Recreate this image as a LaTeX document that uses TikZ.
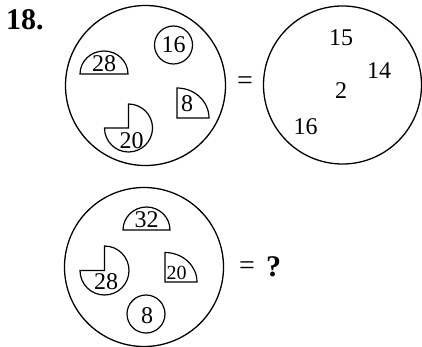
\documentclass[tikz,border=0pt]{standalone}
\usepackage{fontspec}
\setmainfont{Liberation Serif}
\begin{document}
\begin{tikzpicture}[x=1pt,y=-1pt,
  bigc/.style={draw=black,line width=1.3pt},
  piece/.style={draw=black,line width=1.2pt},
  num/.style={inner sep=0pt,font=\fontsize{24}{24}\selectfont},
  smallnum/.style={inner sep=0pt,font=\fontsize{20}{20}\selectfont},
  eqsign/.style={inner sep=0pt,font=\fontsize{28}{28}\selectfont}]
\useasboundingbox (0,0) rectangle (422,347);
% title
\node[inner sep=0pt,anchor=west,font=\fontsize{30}{30}\bfseries\selectfont] (title) at (6,20) {18.};
% ---- first big circle ----
\draw[bigc] (145.5,85.5) circle[radius=80];
\draw[piece] (173.5,45) circle[radius=19];
\node[num] (a16) at (173.5,44.5) {16};
\draw[piece] (80,74) arc[start angle=180,end angle=360,x radius=24,y radius=23] -- cycle;
\node[num] (a28) at (104,64) {28};
\draw[piece] (177,118) -- ++(0,-30) arc[start angle=-90,end angle=0,x radius=32,y radius=30] -- cycle;
\node[num] (a8) at (187,103.5) {8};
\draw[piece] (128.5,128) -- ++(0,-24) arc[start angle=-90,end angle=180,radius=24] -- cycle;
\node[num] (a20) at (131.5,140.5) {20};
\node[eqsign] (eq1) at (245,83) {=};
% ---- second big circle ----
\draw[bigc] (342.5,85) circle[radius=79];
\node[num] (b15) at (341,37.5) {15};
\node[num] (b14) at (379,71) {14};
\node[num] (b2) at (341,91) {2};
\node[num] (b16) at (305.5,126.5) {16};
% ---- third big circle ----
\draw[bigc] (144,267) circle[radius=79.5];
\draw[piece] (123,230) arc[start angle=180,end angle=360,x radius=23.5,y radius=23] -- cycle;
\node[num] (c32) at (146.5,220) {32};
\draw[piece] (104.5,270.5) -- ++(0,-24.5) arc[start angle=-90,end angle=180,radius=24.5] -- cycle;
\node[num] (c28) at (106,282) {28};
\draw[piece] (165,282) -- ++(0,-29.5) arc[start angle=-90,end angle=0,x radius=32,y radius=29.5] -- cycle;
\node[smallnum] (c20) at (176.5,273) {20};
\draw[piece] (146,314) circle[radius=19];
\node[num] (c8) at (147,316) {8};
\node[eqsign] (eq2) at (247,268) {=};
\node[inner sep=0pt,font=\fontsize{30}{30}\bfseries\selectfont] (q) at (273.5,266.5) {?};
\end{tikzpicture}
\end{document}
